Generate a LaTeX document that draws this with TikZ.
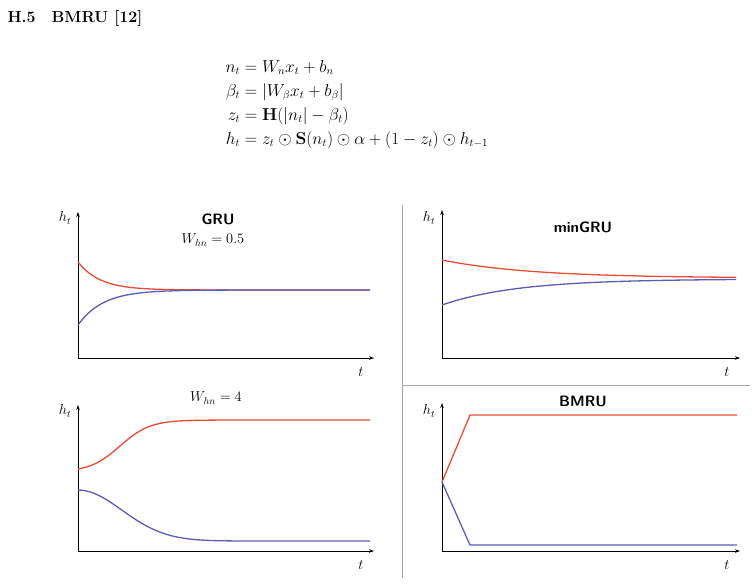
\documentclass[tikz,border=0pt]{standalone}
\usepackage{amsmath}
\usepackage{amssymb}
\definecolor{curvered}{RGB}{232,76,56}
\definecolor{curveblue}{RGB}{92,92,176}
\tikzset{
  axis/.style={-{Stealth[length=5pt,width=3.5pt]}, line width=.7pt},
  redline/.style={curvered, line width=1.3pt, line join=round},
  blueline/.style={curveblue, line width=1.3pt, line join=round},
  paneltitle/.style={font=\sffamily\bfseries\fontsize{15}{18}\selectfont},
  lbl/.style={font=\fontsize{14}{16}\selectfont},
}
\usetikzlibrary{arrows.meta}
\begin{document}
\begin{tikzpicture}[x=1pt,y=-1pt]
  \useasboundingbox (0,0) rectangle (754,584);
  \node[anchor=west, font=\bfseries\fontsize{16}{18}\selectfont] (head) at (4,18) {H.5\quad BMRU [12]};
  \node[anchor=north west, font=\fontsize{16}{21}\selectfont] (eqs) at (222,54) {$\begin{aligned}
    n_t &= W_n x_t + b_n\\
    \beta_t &= |W_\beta x_t + b_\beta|\\
    z_t &= \mathbf{H}(|n_t| - \beta_t)\\
    h_t &= z_t \odot \mathbf{S}(n_t) \odot \alpha + (1 - z_t) \odot h_{t-1}
  \end{aligned}$};

  % separators
  \draw[line width=.6pt, gray!70] (402,205) -- (402,578);
  \draw[line width=.6pt, gray!70] (402,385) -- (750,385);

  % GRU, W_hn = 0.5
  \coordinate (o1) at (78,358);
  \draw[axis] (o1) -- (78,212);
  \draw[axis] (o1) -- (374,358);
  \node[lbl] (h1) at (65,218) {$h_t$};
  \node[lbl] (t1) at (361,372) {$t$};
  \node[paneltitle] (gru) at (218,219) {GRU};
  \node[lbl] (w1) at (213,240) {$W_{hn} = 0.5$};
  \draw[redline] plot[domain=0:292, samples=80] ({78+\x}, {290-28*exp(-min(\x/22,9))});
  \draw[blueline] plot[domain=0:292, samples=80] ({78+\x}, {290+35*exp(-min(\x/25,9))});

  % minGRU
  \coordinate (o2) at (442,358);
  \draw[axis] (o2) -- (442,210);
  \draw[axis] (o2) -- (740,358);
  \node[lbl] (h2) at (429,218) {$h_t$};
  \node[lbl] (t2) at (727,372) {$t$};
  \node[paneltitle] (mingru) at (583,227) {minGRU};
  \draw[redline] plot[domain=0:294, samples=60] ({442+\x}, {278-18*exp(-\x/90)});
  \draw[blueline] plot[domain=0:294, samples=60] ({442+\x}, {279+26*exp(-\x/75)});

  % GRU, W_hn = 4
  \coordinate (o3) at (78,551);
  \draw[axis] (o3) -- (78,405);
  \draw[axis] (o3) -- (374,551);
  \node[lbl] (h3) at (65,411) {$h_t$};
  \node[lbl] (t3) at (361,565) {$t$};
  \node[lbl] (w3) at (216,398) {$W_{hn} = 4$};
  \draw[redline] plot[domain=0:292, samples=80] ({78+\x}, {420+52/(1+exp(min((\x-42)/15,9)))});
  \draw[blueline] plot[domain=0:292, samples=80] ({78+\x}, {541-51*exp(-min((\x/62)^2,9))});

  % BMRU
  \coordinate (o4) at (442,551);
  \draw[axis] (o4) -- (442,403);
  \draw[axis] (o4) -- (740,551);
  \node[lbl] (h4) at (429,411) {$h_t$};
  \node[lbl] (t4) at (727,565) {$t$};
  \node[paneltitle] (bmru) at (583,401) {BMRU};
  \coordinate (s4) at (442,482);
  \draw[redline] (s4) -- (470,415) -- (737,415);
  \draw[blueline] (s4) -- (470,545) -- (737,545);
\end{tikzpicture}
\end{document}
